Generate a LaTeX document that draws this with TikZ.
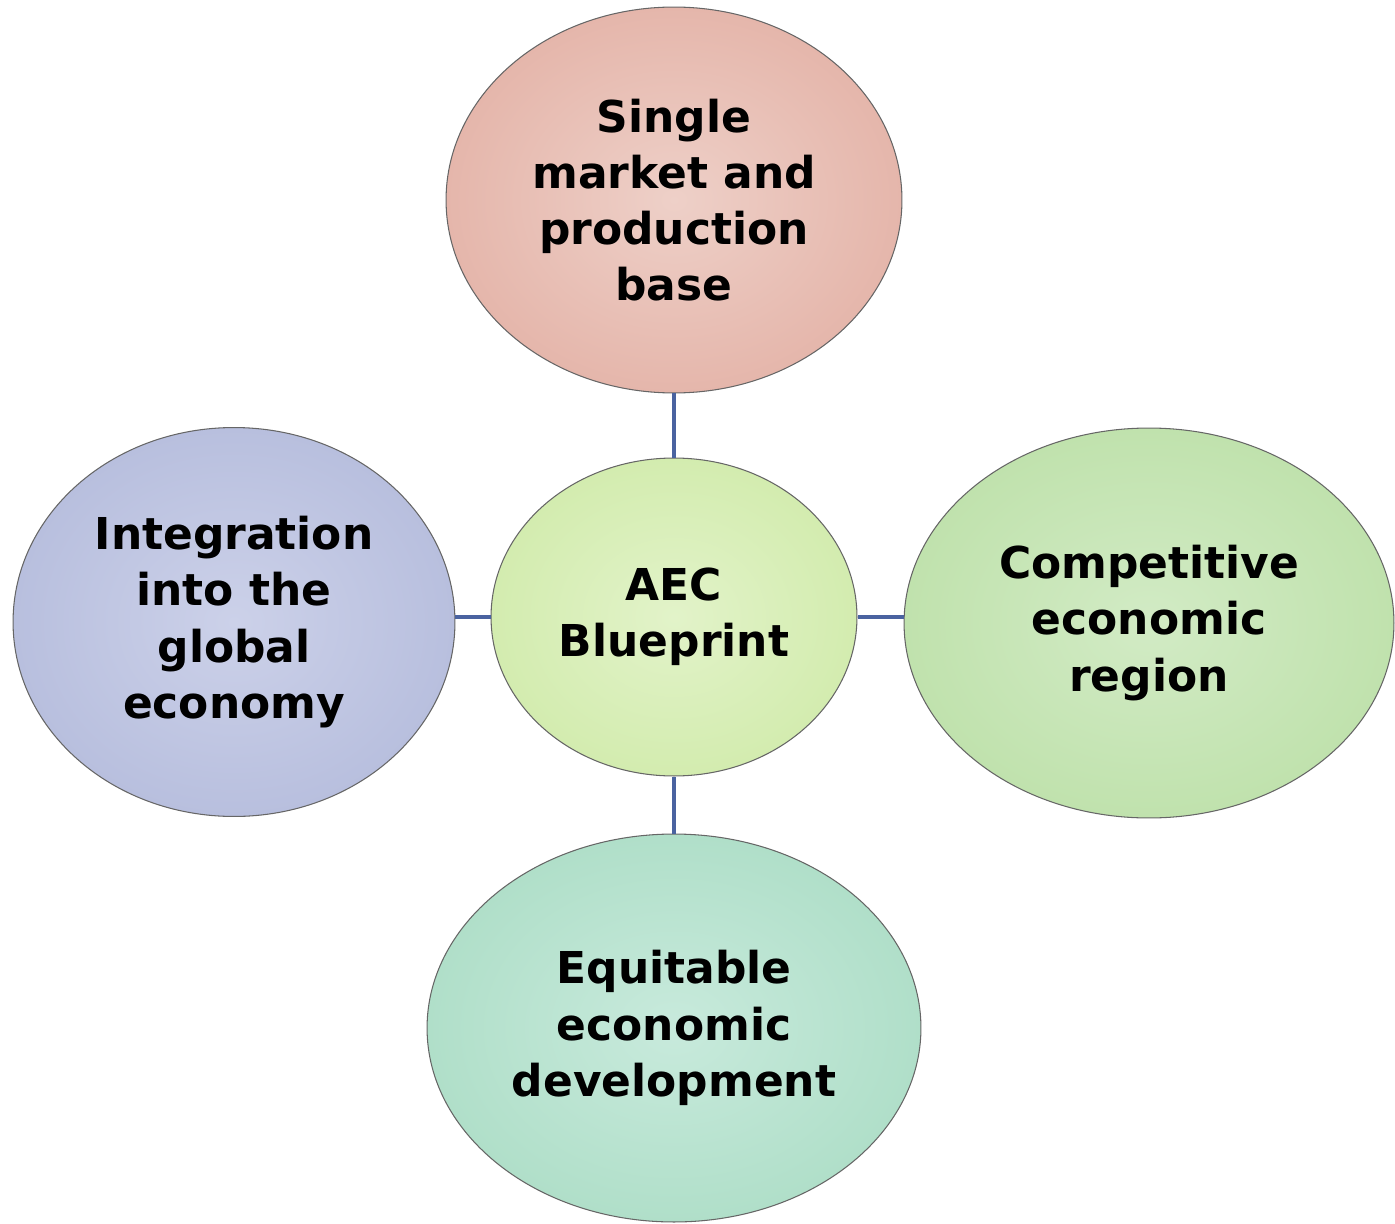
\documentclass[tikz,border=0pt]{standalone}
\usepackage{fontspec}
\setmainfont{DejaVu Sans}
\usetikzlibrary{shapes.geometric}

\definecolor{linkblue}{HTML}{4A63A0}
\definecolor{pinkin}{HTML}{EED0C8}
\definecolor{pinkout}{HTML}{E5B6AB}
\definecolor{limein}{HTML}{E2F3C9}
\definecolor{limeout}{HTML}{D3ECAF}
\definecolor{lilacin}{HTML}{CCD1E9}
\definecolor{lilacout}{HTML}{B8BFDE}
\definecolor{leafin}{HTML}{D2EBC5}
\definecolor{leafout}{HTML}{C0E2AD}
\definecolor{mintin}{HTML}{C8EADC}
\definecolor{mintout}{HTML}{B0DFC9}

\begin{document}
\begin{tikzpicture}[x=0.02cm, y=-0.02cm,
    nodes={ellipse, draw=black!60, line width=0.6pt, inner sep=0pt, align=center,
           font=\fontsize{25}{32}\selectfont\bfseries},
    link/.style={draw=linkblue, line width=2.6pt}]
  \useasboundingbox (0,0) rectangle (1395,1223);
  \node[minimum width=7.32cm, minimum height=6.36cm, inner color=limein, outer color=limeout]
    (hub) at (674,617) {AEC\\Blueprint};
  \node[minimum width=9.12cm, minimum height=7.72cm, inner color=pinkin, outer color=pinkout]
    (market) at (674,200) {Single\\market and\\production\\base};
  \node[minimum width=8.84cm, minimum height=7.78cm, inner color=lilacin, outer color=lilacout]
    (global) at (234,622) {Integration\\into the\\global\\economy};
  \node[minimum width=9.8cm, minimum height=7.8cm, inner color=leafin, outer color=leafout]
    (region) at (1149,623) {Competitive\\economic\\region};
  \node[minimum width=9.88cm, minimum height=7.76cm, inner color=mintin, outer color=mintout]
    (equity) at (674,1028) {Equitable\\economic\\development};
  \draw[link] (hub) -- (market);
  \draw[link] (hub) -- (equity);
  \draw[link] (hub.west) -- (hub.west -| global.east);
  \draw[link] (hub.east) -- (hub.east -| region.west);
\end{tikzpicture}
\end{document}
